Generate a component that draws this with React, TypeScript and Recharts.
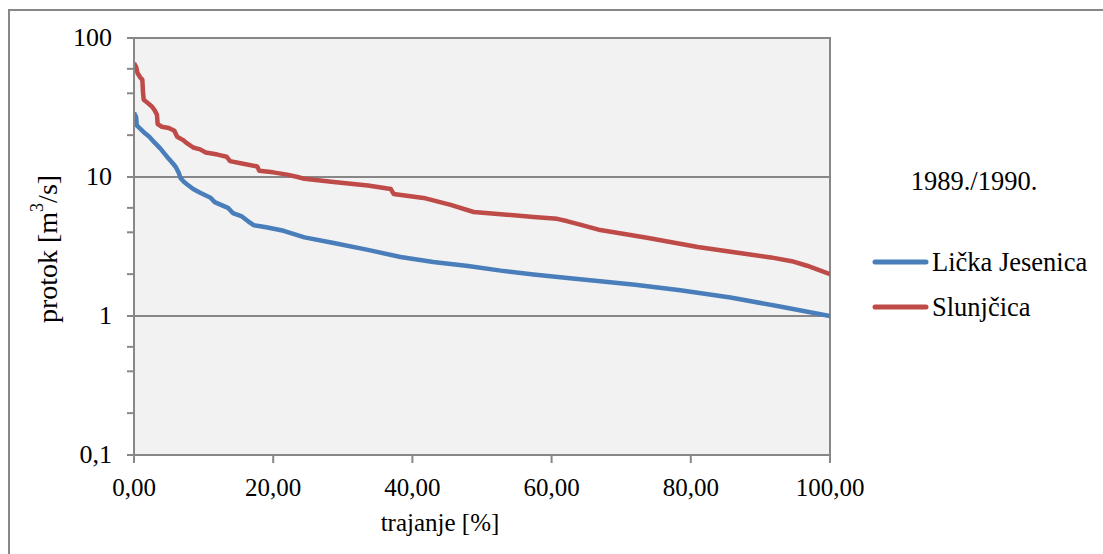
import {
  LineChart,
  Line,
  XAxis,
  YAxis,
  ReferenceArea,
  ReferenceLine,
  Legend,
} from "recharts";

// trajanje [%] / protok [m3/s]
const ljDuration = [
  0, 0.3, 0.4, 1.4, 2.2, 2.9, 3.8, 4.5, 4.9, 5.6, 6.0, 6.4, 6.7, 7.2, 7.7, 8.5,
  9.5, 11.0, 11.6, 12.5, 13.5, 14.2, 15.5, 16.4, 17.2, 19.0, 21.5, 23.0, 24.5,
  28.7, 33.6, 38.3, 43.0, 48.0, 52.7, 57.4, 62.3, 67.0, 72.0, 78.5, 85.7, 92.8, 100,
];
const ljFlow = [
  29, 27, 23.5, 21, 19.5, 17.8, 16, 14.5, 13.7, 12.5, 11.8, 10.8, 9.8, 9.2, 8.8,
  8.2, 7.7, 7.1, 6.6, 6.3, 6.0, 5.5, 5.2, 4.8, 4.5, 4.35, 4.1, 3.88, 3.68, 3.35,
  2.99, 2.66, 2.45, 2.29, 2.12, 1.99, 1.88, 1.78, 1.68, 1.53, 1.36, 1.17, 1.0,
];

const slDuration = [
  0, 0.3, 0.5, 0.9, 1.2, 1.3, 1.4, 2.0, 2.6, 3.0, 3.3, 3.4, 4.0, 5.0, 5.8, 6.2,
  7.0, 7.6, 8.5, 9.5, 10.3, 12.0, 13.3, 13.8, 15.5, 17.7, 18.0, 20.0, 22.0, 23.5,
  24.5, 28.7, 33.6, 36.9, 37.3, 41.6, 45.5, 48.8, 52.7, 57.4, 60.8, 62.3, 63.7,
  67.0, 73.7, 81.0, 88.0, 91.5, 94.5, 96.7, 100,
];
const slFlow = [
  66, 62, 56, 52, 50, 40, 36, 34, 32, 30, 28, 24, 23, 22.5, 21.5, 19.5, 18.5,
  17.5, 16.3, 15.8, 15, 14.5, 14.0, 13.0, 12.5, 11.9, 11.1, 10.8, 10.4, 10.0,
  9.7, 9.2, 8.7, 8.2, 7.55, 7.07, 6.3, 5.6, 5.4, 5.15, 5.0, 4.8, 4.6, 4.15, 3.65,
  3.14, 2.79, 2.64, 2.48, 2.3, 2.0,
];

const xTicks = [0, 20, 40, 60, 80, 100];
const yMajor = [0.1, 1, 10, 100];
const yMinorSteps = [2, 3, 4, 5, 6, 7, 8, 9];

const ljData = ljDuration.map((p, i) => ({ p, q: ljFlow[i] }));
const slData = slDuration.map((p, i) => ({ p, q: slFlow[i] }));

const yTicks = yMajor.flatMap((m, i) =>
  i < yMajor.length - 1 ? [m, ...yMinorSteps.map((s) => +(m * s).toFixed(3))] : [m]
);

const FONT = "Liberation Serif, Tinos, DejaVu Serif, Times New Roman, serif";
const GREY = "#878787";
const BLUE = "#4a7ebb";
const RED = "#be4b48";
const txt = { fontFamily: FONT, fontSize: 25, fill: "#000" };
const txtL = { ...txt, fontSize: 26.5 };

const fmtY = (v: number) => String(v).replace(".", ",");
const fmtX = (v: number) => v.toFixed(2).replace(".", ",");

const YTick = ({ x, y, payload }: any) => {
  if (!yMajor.includes(payload.value)) return null;
  return (
    <text x={x} y={y + 8} textAnchor="end" style={{ ...txt, fontSize: 26 }}>
      {fmtY(payload.value)}
    </text>
  );
};

const XTick = ({ x, y, payload }: any) => (
  <text x={x} y={y + 31} textAnchor="middle" style={txt}>
    {fmtX(payload.value)}
  </text>
);

const LegendBox = () => (
  <svg width={240} height={170} style={{ display: "block" }}>
    <text x={114} y={30} textAnchor="middle" style={txtL}>
      1989./1990.
    </text>
    <line x1={15} x2={66} y1={102} y2={102} stroke={BLUE} strokeWidth={5} strokeLinecap="round" />
    <text x={72} y={111} style={txtL}>
      Lička Jesenica
    </text>
    <line x1={15} x2={66} y1={147} y2={147} stroke={RED} strokeWidth={5} strokeLinecap="round" />
    <text x={72} y={156} style={txtL}>
      Slunjčica
    </text>
  </svg>
);

export default function App() {
  return (
    <div style={{ position: "absolute", left: 0, top: 0, width: 1103, height: 554, background: "#fff", overflow: "hidden" }}>
      <div
        style={{
          position: "absolute",
          left: 8,
          top: 9,
          width: 1110,
          height: 560,
          borderTop: `2px solid ${GREY}`,
          borderLeft: `2px solid ${GREY}`,
        }}
      />
      <div style={{ position: "absolute", left: 0, top: 0 }}>
        <LineChart width={1103} height={554} margin={{ top: 38, right: 273, bottom: 39, left: 54 }}>
          <XAxis
            type="number"
            dataKey="p"
            domain={[0, 100]}
            ticks={xTicks}
            allowDataOverflow
            height={60}
            tickSize={8}
            tickLine={{ stroke: GREY, strokeWidth: 2 }}
            axisLine={{ stroke: GREY, strokeWidth: 2 }}
            tick={<XTick />}
            label={{
              content: () => (
                <text x={440} y={531} textAnchor="middle" style={txt}>
                  trajanje [%]
                </text>
              ),
            }}
          />
          <YAxis
            type="number"
            dataKey="q"
            scale="log"
            domain={[0.1, 100]}
            ticks={yTicks}
            allowDataOverflow
            width={80}
            tickSize={7}
            tickMargin={15}
            tickLine={{ stroke: GREY, strokeWidth: 2 }}
            axisLine={{ stroke: GREY, strokeWidth: 2 }}
            tick={<YTick />}
            label={{
              content: () => (
                <text
                  x={47}
                  y={249}
                  textAnchor="middle"
                  transform="rotate(-90 47 249)"
                  dominantBaseline="central"
                  style={{ ...txt, fontSize: 28 }}
                >
                  protok [m
                  <tspan style={{ fontSize: 18 }} dy={-10}>3</tspan>
                  <tspan dy={10}>/s]</tspan>
                </text>
              ),
            }}
          />
          <ReferenceArea
            x1={0}
            x2={100}
            y1={0.1}
            y2={100}
            fill="#f2f2f2"
            fillOpacity={1}
            stroke={GREY}
            strokeWidth={2}
          />
          <ReferenceLine y={1} stroke={GREY} strokeWidth={2} />
          <ReferenceLine y={10} stroke={GREY} strokeWidth={2} />
          <Legend
            layout="vertical"
            align="center"
            verticalAlign="middle"
            wrapperStyle={{ left: 860, top: 160, width: 240 }}
            content={<LegendBox />}
          />
          <Line
            data={ljData}
            dataKey="q"
            name="Lička Jesenica"
            type="linear"
            stroke={BLUE}
            strokeWidth={4.5}
            strokeLinejoin="round"
            dot={false}
            isAnimationActive={false}
          />
          <Line
            data={slData}
            dataKey="q"
            name="Slunjčica"
            type="linear"
            stroke={RED}
            strokeWidth={4.5}
            strokeLinejoin="round"
            dot={false}
            isAnimationActive={false}
          />
        </LineChart>
      </div>
    </div>
  );
}
